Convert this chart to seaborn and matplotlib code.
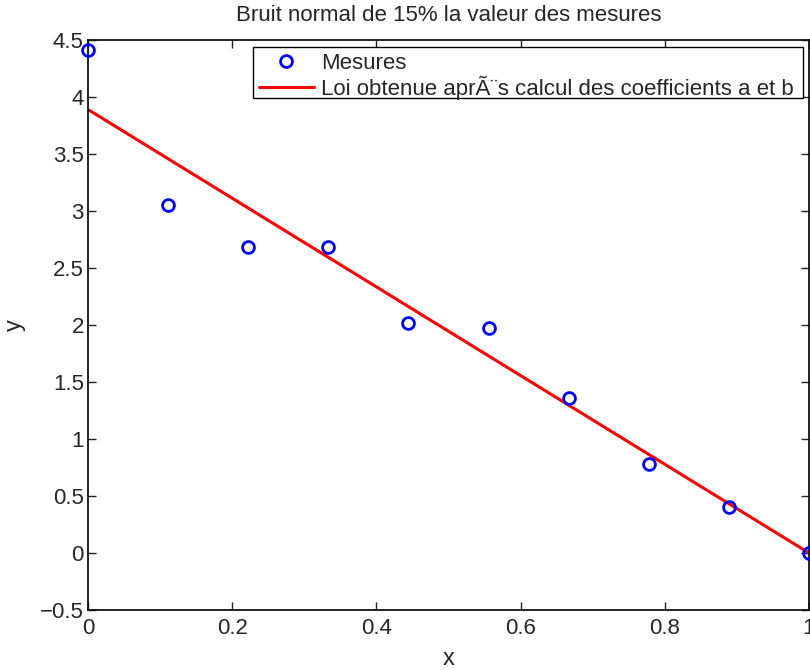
import matplotlib
matplotlib.use('Agg')
import matplotlib.pyplot as plt
import seaborn as sns
import numpy as np
import pandas as pd
from matplotlib.ticker import FuncFormatter
from matplotlib.patches import Rectangle

# données
x_mesures = [0, 1/9, 2/9, 3/9, 4/9, 5/9, 6/9, 7/9, 8/9, 1]
y_mesures = [4.41, 3.05, 2.68, 2.68, 2.02, 1.97, 1.36, 0.78, 0.40, 0.0]
x_loi = [0, 1]
y_loi = [3.89, 0.0]

x_ticks = [0, 0.2, 0.4, 0.6, 0.8, 1]
y_ticks = [-0.5, 0, 0.5, 1, 1.5, 2, 2.5, 3, 3.5, 4, 4.5]

titre = 'Bruit normal de 15% la valeur des mesures'
nom_mesures = 'Mesures'
nom_loi = 'Loi obtenue apr\u00c3\u00a8s calcul des coefficients a et b'

df_mes = pd.DataFrame({'x': x_mesures, 'y': y_mesures})
df_loi = pd.DataFrame({'x': x_loi, 'y': y_loi})

sns.set_style("ticks")
plt.rcParams['font.family'] = ['Liberation Sans', 'DejaVu Sans']
plt.rcParams['xtick.direction'] = 'in'
plt.rcParams['ytick.direction'] = 'in'

fig = plt.figure(figsize=(8.1, 6.7), dpi=100)
ax = fig.add_axes([88/810, 60/670, 721/810, 570/670])

sns.lineplot(data=df_mes, x='x', y='y', ax=ax, marker='o', linestyle='',
             markerfacecolor='none', markeredgecolor='blue', markeredgewidth=2,
             markersize=8.5, color='blue', label=nom_mesures, clip_on=False, zorder=3)
sns.lineplot(data=df_loi, x='x', y='y', ax=ax, color='red', linewidth=2.2,
             label=nom_loi, zorder=2)

# format type MATLAB, avec le vrai signe moins
fmt = FuncFormatter(lambda v, p: ('%g' % v).replace('-', '\u2212'))

ax.set_xlim(0, 1)
ax.set_ylim(-0.5, 4.5)
ax.set_xticks(x_ticks)
ax.set_yticks(y_ticks)
ax.xaxis.set_major_formatter(fmt)
ax.yaxis.set_major_formatter(fmt)
ax.tick_params(axis='both', which='both', top=True, right=True, length=6,
               width=1, labelsize=16, color='#222222', pad=3)
ax.tick_params(axis='x', pad=6)
for s in ax.spines.values():
    s.set_linewidth(1.3)
    s.set_color('#111111')

ax.set_title(titre, fontsize=16, pad=14)
ax.set_xlabel('x', fontsize=17, labelpad=6)
ax.set_ylabel('y', fontsize=17, labelpad=10)

# légende sans cadre, le cadre (plus étroit que le texte, comme MATLAB) est dessiné à part
leg = ax.legend(loc='upper left', bbox_to_anchor=((253 - 88) / 721, (610 - 47) / 570),
                fontsize=16, frameon=False, borderaxespad=0, handlelength=2.5,
                borderpad=0.25, labelspacing=0.1, handletextpad=0.3)
leg.set_zorder(6)
cadre = Rectangle((253/810, (670 - 98)/670), 550/810, 51/670, transform=fig.transFigure,
                  facecolor='white', edgecolor='black', linewidth=1.0, zorder=5, clip_on=False)
ax.add_patch(cadre)

plt.savefig('out.png', dpi=100)
